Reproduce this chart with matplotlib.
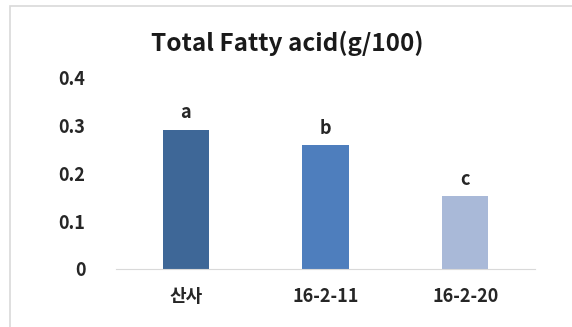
import matplotlib
matplotlib.use("Agg")
import matplotlib.pyplot as plt
from matplotlib.patches import Rectangle

plt.rcParams['font.family'] = ['Noto Sans CJK KR', 'DejaVu Sans']

# data
categories = ['산사', '16-2-11', '16-2-20']
values = [0.291, 0.258, 0.152]
letters = ['a', 'b', 'c']
colors = ['#3E6797', '#4E7EBD', '#A9B9D8']
yticks = [0, 0.1, 0.2, 0.3, 0.4]
ytick_labels = ['0', '0.1', '0.2', '0.3', '0.4']

W, H = 572, 327
fig = plt.figure(figsize=(W / 100, H / 100), dpi=100)
fig.patch.set_facecolor('white')

# outer chart border (right / bottom cut off)
fig.patches.append(Rectangle((10 / W, -0.1), 1.2, 1.1 - 6 / H,
                             transform=fig.transFigure, fill=False,
                             edgecolor='#D9D9D9', linewidth=1.2))

ax = fig.add_axes([116 / W, 1 - 269 / H, (535 - 116) / W, (269 - 77.5) / H])
x = range(len(categories))
ax.bar(x, values, width=0.33, color=colors)
for i, (v, t) in enumerate(zip(values, letters)):
    ax.text(i, v + 0.016, t, ha='center', va='bottom', fontsize=13,
            fontweight='bold', color='#262626')

ax.set_xlim(-0.5, 2.5)
ax.set_ylim(0, 0.4)
ax.set_yticks(yticks)
ax.set_yticklabels(ytick_labels)
ax.set_xticks(list(x))
ax.set_xticklabels(categories)
ax.tick_params(length=0, labelsize=13, colors='#262626')
ax.tick_params(axis='y', pad=22)
ax.tick_params(axis='x', pad=13)
for lab in ax.get_xticklabels() + ax.get_yticklabels():
    lab.set_fontweight('bold')
for s in ['top', 'right', 'left']:
    ax.spines[s].set_visible(False)
ax.spines['bottom'].set_color('#D9D9D9')

fig.text(287 / W, 1 - 43 / H, 'Total Fatty acid(g/100)', ha='center',
         va='center', fontsize=17.5, fontweight='bold', color='#1a1a1a')

fig.savefig('out.png', dpi=100)
